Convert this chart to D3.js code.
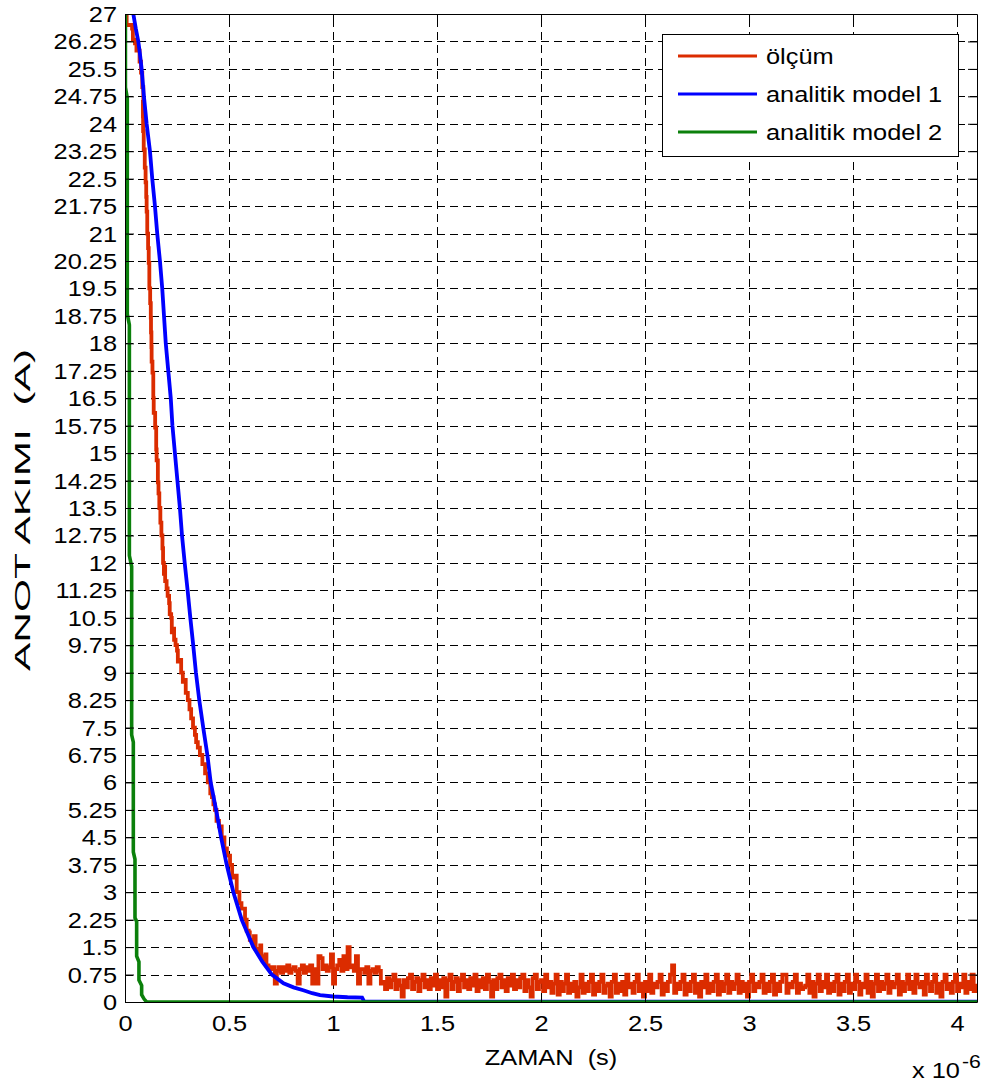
<!DOCTYPE html>
<html>
<head>
<meta charset="utf-8">
<script src="https://cdn.jsdelivr.net/npm/d3@7"></script>
<style>
  html, body { margin: 0; padding: 0; background: #fff; }
  svg { display: block; }
  text { font-family: "Liberation Sans", Arial, sans-serif; fill: #000; }
</style>
</head>
<body>
<svg id="chart" width="985" height="1088"></svg>
<script>
// ---------------- DATA (time in units of 1e-6 s, current in A) ----------------
const seriesNames = ["ölçüm", "analitik model 1", "analitik model 2"];
const seriesColors = ["#db2c00", "#0000ff", "#0b800b"];

// measurement: steep part read point by point
const measHead = [
  [0.0, 27.4], [0.006, 27.0], [0.008, 26.7], [0.034, 26.6], [0.038, 26.3], [0.048, 26.2],
  [0.055, 26.0], [0.07, 25.7], [0.077, 25.4], [0.083, 25.0], [0.088, 24.6], [0.086, 24.2],
  [0.087, 23.8], [0.090, 23.3], [0.095, 22.8], [0.099, 22.4], [0.102, 22.0], [0.104, 21.6],
  [0.107, 21.0], [0.111, 20.6], [0.114, 20.2], [0.117, 19.5], [0.121, 19.1], [0.124, 18.7],
  [0.125, 18.3], [0.127, 17.9], [0.128, 17.5], [0.132, 17.2], [0.136, 16.5], [0.138, 16.1],
  [0.145, 15.7], [0.150, 15.1], [0.152, 14.8], [0.158, 14.2], [0.161, 13.9], [0.165, 13.5],
  [0.170, 13.1], [0.175, 12.75], [0.180, 12.4], [0.183, 12.0], [0.187, 11.7], [0.190, 11.9],
  [0.193, 11.5], [0.200, 11.3], [0.205, 11.1], [0.212, 10.9], [0.215, 10.6], [0.222, 10.5],
  [0.225, 10.1], [0.232, 10.2], [0.236, 9.9], [0.243, 9.75], [0.250, 9.6], [0.254, 9.3],
  [0.262, 9.35], [0.270, 9.0], [0.278, 8.75], [0.285, 8.8], [0.292, 8.45], [0.302, 8.25],
  [0.310, 8.0], [0.318, 7.75], [0.327, 7.5], [0.336, 7.3], [0.342, 7.1], [0.350, 6.95],
  [0.360, 6.75], [0.372, 6.5], [0.385, 6.25], [0.398, 6.0], [0.410, 5.7], [0.418, 5.6],
  [0.425, 5.4], [0.432, 5.25], [0.440, 4.95], [0.452, 4.8], [0.465, 4.5], [0.478, 4.2],
  [0.490, 4.0], [0.505, 3.75], [0.515, 3.4], [0.522, 3.45], [0.537, 3.0], [0.550, 2.7],
  [0.560, 2.55], [0.577, 2.25], [0.585, 1.95], [0.595, 1.9], [0.600, 1.7], [0.615, 1.55],
  [0.620, 1.8], [0.628, 1.45], [0.640, 1.35], [0.650, 1.55], [0.655, 1.25], [0.668, 1.15],
  [0.675, 1.3], [0.680, 1.0], [0.690, 0.95]
];
// measurement: noisy tail, one sample every 0.01e-6 s starting at 0.70e-6 s
const measTailStart = 0.70;
const measTailStep = 0.01;
const measTail = [
  0.9, 0.95, 0.5, 0.85, 0.95,
  0.8, 0.95, 0.85, 1.0, 0.8, 0.9, 0.95, 0.85, 0.5, 0.9, 1.0, 0.8, 0.95, 0.85, 1.0, 0.5, 0.9,
  0.5, 1.25, 1.2, 0.9, 1.0, 0.85, 0.95, 1.3, 0.5, 0.9, 1.0, 1.15, 0.85, 1.25, 0.9, 1.5, 0.95, 1.0, 0.85, 1.25, 0.5, 0.9,
  0.9, 0.8, 0.95, 0.5, 0.85, 0.9, 0.8, 0.95, 0.85, 0.5,
  0.55, 0.35, 0.65, 0.4, 0.6, 0.75, 0.35, 0.6, 0.45, 0.15,
  0.6, 0.4, 0.65, 0.75, 0.35, 0.55, 0.65, 0.3, 0.6, 0.75,
  0.4, 0.6, 0.35, 0.65, 0.45, 0.75, 0.35, 0.6, 0.4, 0.65,
  0.15, 0.6, 0.75, 0.35, 0.55, 0.65, 0.3, 0.6, 0.75, 0.4,
  0.6, 0.35, 0.65, 0.45, 0.75, 0.3, 0.6, 0.4, 0.65, 0.35,
  0.75, 0.55, 0.15, 0.6, 0.35, 0.65, 0.75, 0.4, 0.6, 0.3,
  0.65, 0.45, 0.75, 0.35, 0.6, 0.4, 0.65, 0.75, 0.3, 0.6,
  0.4, 0.15, 0.65, 0.75, 0.35, 0.55, 0.6, 0.3, 0.75, 0.4,
  0.55, 0.25, 0.5, 0.75, 0.2, 0.55, 0.3, 0.5, 0.75, 0.25,
  0.5, 0.3, 0.55, 0.15, 0.4, 0.75, 0.25, 0.5, 0.3, 0.55,
  0.75, 0.2, 0.5, 0.3, 0.55, 0.75, 0.25, 0.45, 0.5, 0.15,
  0.55, 0.75, 0.25, 0.5, 0.3, 0.55, 0.2, 0.75, 0.4, 0.5,
  0.25, 0.55, 0.75, 0.3, 0.5, 0.15, 0.55, 0.3, 0.75, 0.25,
  0.5, 0.4, 0.55, 0.75, 0.2, 0.5, 0.3, 0.55, 0.75, 1.0,
  0.25, 0.5, 0.35, 0.55, 0.75, 0.2, 0.5, 0.3, 0.55, 0.75,
  0.25, 0.5, 0.15, 0.55, 0.4, 0.75, 0.25, 0.5, 0.3, 0.55,
  0.75, 0.2, 0.55, 0.3, 0.5, 0.75, 0.25, 0.55, 0.35, 0.5,
  0.75, 0.25, 0.55, 0.3, 0.5, 0.15, 0.55, 0.75, 0.3, 0.5,
  0.4, 0.55, 0.75, 0.25, 0.5, 0.3, 0.55, 0.75, 0.2, 0.5,
  0.3, 0.55, 0.75, 0.75, 0.25, 0.5, 0.4, 0.55, 0.75, 0.25,
  0.5, 0.35, 0.4, 0.45, 0.75, 0.25, 0.55, 0.15, 0.5, 0.75,
  0.3, 0.55, 0.4, 0.75, 0.25, 0.5, 0.3, 0.55, 0.75, 0.2,
  0.5, 0.3, 0.55, 0.75, 0.25, 0.5, 0.35, 0.75, 0.55, 0.2,
  0.5, 0.4, 0.75, 0.25, 0.55, 0.15, 0.5, 0.75, 0.3, 0.55,
  0.35, 0.5, 0.75, 0.25, 0.55, 0.4, 0.5, 0.75, 0.2, 0.55,
  0.3, 0.5, 0.75, 0.35, 0.55, 0.25, 0.75, 0.5, 0.4, 0.55,
  0.2, 0.75, 0.5, 0.3, 0.55, 0.75, 0.25, 0.5, 0.15, 0.55,
  0.75, 0.35, 0.5, 0.25, 0.55, 0.75, 0.3, 0.5, 0.4, 0.75,
  0.25, 0.55, 0.35, 0.75, 0.3, 0.5
];

const model1 = [
  [0.030, 27.4], [0.040, 27.0], [0.052, 26.6], [0.064, 26.25], [0.072, 25.9], [0.080, 25.5],
  [0.091, 24.75], [0.104, 24.0], [0.120, 23.25], [0.131, 22.5], [0.144, 21.75], [0.155, 21.0],
  [0.168, 20.25], [0.179, 19.5], [0.1875, 18.75], [0.196, 18.0], [0.208, 17.25], [0.220, 16.5],
  [0.228, 15.75], [0.240, 15.0], [0.252, 14.25], [0.264, 13.5], [0.274, 12.75], [0.287, 12.0],
  [0.301, 11.25], [0.314, 10.5], [0.328, 9.75], [0.341, 9.0], [0.357, 8.25], [0.376, 7.5],
  [0.396, 6.75], [0.412, 6.0], [0.438, 5.25], [0.462, 4.5], [0.489, 3.75], [0.521, 3.0],
  [0.561, 2.25], [0.617, 1.5], [0.660, 1.1], [0.706, 0.75], [0.762, 0.51], [0.810, 0.4],
  [0.857, 0.32], [0.900, 0.24], [0.938, 0.19], [1.000, 0.15], [1.070, 0.13], [1.140, 0.12],
  [1.150, 0.01], [4.096, 0.01]
];

const model2 = [
  [0.002, 27.6], [0.002, 25.0], [0.011, 24.7], [0.011, 18.8], [0.021, 18.5], [0.021, 12.2],
  [0.032, 11.9], [0.032, 7.3], [0.040, 7.1], [0.040, 4.1], [0.048, 3.9], [0.048, 2.3],
  [0.056, 2.2], [0.056, 1.25], [0.067, 1.1], [0.067, 0.6], [0.080, 0.45], [0.080, 0.2],
  [0.092, 0.08], [0.104, 0.0], [4.096, 0.0]
];

const xTickValues = [0, 0.5, 1, 1.5, 2, 2.5, 3, 3.5, 4];
const xTickLabels = ["0", "0.5", "1", "1.5", "2", "2.5", "3", "3.5", "4"];
const yTickLabels = ["0","0.75","1.5","2.25","3","3.75","4.5","5.25","6","6.75","7.5","8.25",
  "9","9.75","10.5","11.25","12","12.75","13.5","14.25","15","15.75","16.5","17.25","18",
  "18.75","19.5","20.25","21","21.75","22.5","23.25","24","24.75","25.5","26.25","27"];
const xDomain = [0, 4.096];
const yDomain = [0, 27];
const xLabel = "ZAMAN  (s)";
const yLabel = "ANOT AKIMI  (A)";

// ---------------- LAYOUT ----------------
const L = 125, T = 14, R = 977, B = 1002;
const SX = 1.18;      // horizontal stretch of the glyphs in the reference
const FS = 21.5;

const svg = d3.select("#chart");
const x = d3.scaleLinear().domain(xDomain).range([L, R]);
const y = d3.scaleLinear().domain(yDomain).range([B, T]);
const yTickValues = yTickLabels.map(Number);

// grid
const grid = svg.append("g").attr("stroke", "#000").attr("stroke-width", 1)
  .attr("stroke-dasharray", "8,5").attr("fill", "none").attr("shape-rendering", "crispEdges");
grid.selectAll("line.v").data(xTickValues.filter(d => d > 0)).join("line")
  .attr("x1", d => Math.round(x(d)) + 0.5).attr("x2", d => Math.round(x(d)) + 0.5)
  .attr("y1", B).attr("y2", T);
grid.selectAll("line.h").data(yTickValues.filter(d => d > 0 && d < 27)).join("line")
  .attr("class", "h")
  .attr("y1", d => Math.round(y(d)) + 0.5).attr("y2", d => Math.round(y(d)) + 0.5)
  .attr("x1", L).attr("x2", R);

// clip
svg.append("defs").append("clipPath").attr("id", "plotclip")
  .append("rect").attr("x", L).attr("y", T).attr("width", R - L).attr("height", B - T);

const lineLin = d3.line().x(d => x(d[0])).y(d => y(d[1]));
const lineStep = d3.line().x(d => x(d[0])).y(d => y(d[1])).curve(d3.curveStepAfter);
const measData = measHead.concat(measTail.map((v, i) => [measTailStart + i * measTailStep, v]));
const series = [measData, model1, model2];
const plot = svg.append("g").attr("clip-path", "url(#plotclip)");
series.forEach((s, i) => {
  plot.append("path").datum(s).attr("d", i === 0 ? lineStep : lineLin).attr("fill", "none")
    .attr("stroke", seriesColors[i]).attr("stroke-width", i === 2 ? 3.6 : 3.8)
    .attr("stroke-linejoin", "miter").attr("stroke-miterlimit", 2);
});

// axes
function styleAxis(g) {
  g.select(".domain").attr("stroke", "#000").attr("stroke-width", 1);
  g.selectAll(".tick line").attr("stroke", "#000").attr("stroke-width", 1);
  g.selectAll("text").style("font-family", "'Liberation Sans', Arial, sans-serif")
    .style("font-size", FS + "px").attr("fill", "#000");
}
const axL = svg.append("g").attr("transform", `translate(${L},0)`)
  .call(d3.axisLeft(y).tickValues(yTickValues).tickFormat((d, i) => yTickLabels[i])
    .tickSizeInner(-9).tickSizeOuter(0).tickPadding(6.8));
styleAxis(axL);
axL.selectAll("text").attr("transform", `scale(${SX},1)`).attr("dy", "0.35em");

const axB = svg.append("g").attr("transform", `translate(0,${B})`)
  .call(d3.axisBottom(x).tickValues(xTickValues).tickFormat((d, i) => xTickLabels[i])
    .tickSizeInner(-9).tickSizeOuter(0).tickPadding(13.7));
styleAxis(axB);
axB.selectAll("text").attr("transform", `scale(${SX},1)`);

const axT = svg.append("g").attr("transform", `translate(0,${T})`)
  .call(d3.axisTop(x).tickValues(xTickValues).tickFormat("").tickSizeInner(-9).tickSizeOuter(0));
styleAxis(axT);
const axR = svg.append("g").attr("transform", `translate(${R},0)`)
  .call(d3.axisRight(y).tickValues(yTickValues).tickFormat("").tickSizeInner(-9).tickSizeOuter(0));
styleAxis(axR);

// axis labels
svg.append("text").attr("transform", `translate(${(L + R) / 2},1065) scale(${SX},1)`)
  .attr("text-anchor", "middle").style("font-size", FS + "px").style("white-space", "pre").text(xLabel);
svg.append("text").attr("transform", `translate(30,${(T + B) / 2 + 2}) rotate(-90)`)
  .attr("text-anchor", "middle").style("font-size", FS + "px").style("white-space", "pre")
  .attr("textLength", 322).attr("lengthAdjust", "spacingAndGlyphs").text(yLabel);

// exponent
svg.append("text").attr("transform", `translate(912,1078) scale(${SX},1)`)
  .style("font-size", FS + "px").text("x 10");
svg.append("text").attr("transform", `translate(962,1068) scale(${SX},1)`)
  .style("font-size", "18px").text("-6");

// legend
const lg = svg.append("g");
lg.append("rect").attr("x", 662.5).attr("y", 34.5).attr("width", 296).attr("height", 122)
  .attr("fill", "#fff").attr("stroke", "#000").attr("stroke-width", 1);
const legY = [56, 94, 132];
seriesNames.forEach((n, i) => {
  lg.append("line").attr("x1", 678).attr("x2", 757).attr("y1", legY[i]).attr("y2", legY[i])
    .attr("stroke", seriesColors[i]).attr("stroke-width", 3.2);
  lg.append("text").attr("transform", `translate(766,${legY[i] + 8}) scale(${SX},1)`)
    .style("font-size", FS + "px").text(n);
});
</script>
</body>
</html>
